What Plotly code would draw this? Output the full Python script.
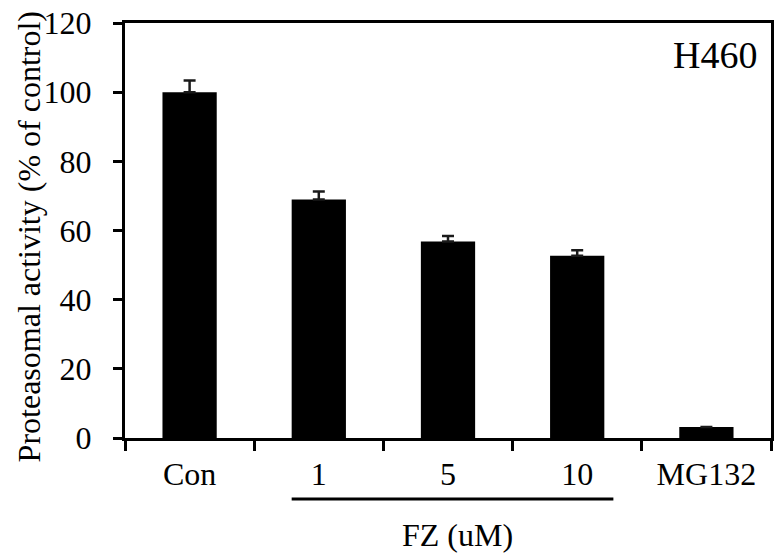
import plotly.graph_objects as go

categories = ["Con", "1", "5", "10", "MG132"]
activity = [100, 69, 56.8, 52.7, 3.2]
errors = [3.4, 2.3, 1.6, 1.6, None]
errors_minus = [0, 0, 0, 0, None]
y_ticks = [0, 20, 40, 60, 80, 100, 120]

FONT = "Liberation Serif"

fig = go.Figure()
fig.add_trace(go.Bar(
    x=categories, y=activity,
    marker=dict(color="black", line=dict(width=0)),
    width=0.42,
    error_y=dict(type="data", symmetric=False, array=errors, arrayminus=errors_minus,
                 visible=True, color="#1a1a1a", thickness=2.5, width=6),
    showlegend=False,
))

fig.update_layout(
    width=777, height=558, autosize=False,
    margin=dict(l=125, r=3, t=23, b=120),
    plot_bgcolor="white", paper_bgcolor="white",
    font=dict(family=FONT, size=32, color="black"),
)
fig.update_xaxes(
    type="category", tickson="boundaries", ticks="outside", ticklen=10, tickwidth=3,
    tickcolor="black", showline=True, linewidth=3, linecolor="black", mirror=True,
    showgrid=False, tickfont=dict(family=FONT, size=32), ticklabelstandoff=6,
)
fig.update_yaxes(
    range=[0, 120], tickvals=y_ticks, ticks="outside", ticklen=9, tickwidth=3,
    tickcolor="black", showline=True, linewidth=3, linecolor="black", mirror=True,
    showgrid=False, zeroline=False, tickfont=dict(family=FONT, size=32),
    ticklabelstandoff=15,
)

fig.add_annotation(
    text="Proteasomal activity (% of control)", textangle=-90,
    xref="paper", yref="paper", x=-0.148, y=(438 - 237) / 415,
    xanchor="center", yanchor="middle",
    showarrow=False, font=dict(family=FONT, size=32, color="black"),
)
fig.add_annotation(
    text="H460", xref="paper", yref="paper", x=0.982, y=(438 - 55) / 415,
    xanchor="right", yanchor="middle", showarrow=False,
    font=dict(family=FONT, size=38, color="black"),
)
fig.add_annotation(
    text="FZ (uM)", xref="paper", yref="paper", x=(459 - 125) / 649, y=(438 - 535) / 415,
    xanchor="center", yanchor="middle", showarrow=False,
    font=dict(family=FONT, size=32, color="black"),
)
fig.add_shape(
    type="line", xref="x", yref="paper", x0=0.79, x1=3.28,
    y0=(438 - 499) / 415, y1=(438 - 499) / 415,
    line=dict(color="black", width=3),
)

fig.write_html("out.html", config={"displayModeBar": False},
               post_script="document.body.style.margin='0';")
